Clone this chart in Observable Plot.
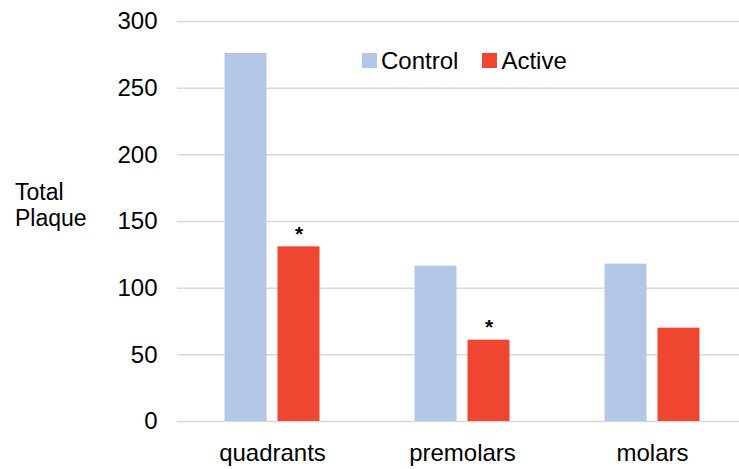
<!DOCTYPE html>
<html>
<head>
<meta charset="utf-8">
<script src="https://cdn.jsdelivr.net/npm/d3@7"></script>
<script src="https://cdn.jsdelivr.net/npm/@observablehq/plot@0.6"></script>
<style>
  html, body { margin: 0; padding: 0; background: #fff; overflow: hidden; }
  #wrap { position: relative; width: 739px; height: 469px; font-family: "Liberation Sans", Arial, sans-serif; }
  #ylabel { position: absolute; left: 15px; top: 179px; font-size: 23px; line-height: 26px; color: #000; }
  #legend { position: absolute; left: 362px; top: 48px; display: flex; align-items: center; font-size: 24px; line-height: 25px; color: #000; }
  .item { display: flex; align-items: center; margin-right: 24px; }
  .sw { width: 15px; height: 15px; margin-right: 4px; }
</style>
</head>
<body>
<div id="wrap">
  <div id="chart"></div>
  <div id="ylabel"></div>
  <div id="legend"></div>
</div>
<script>
const categories = ["quadrants", "premolars", "molars"];
const series = ["Control", "Active"];
const controlValues = [276, 116.5, 118];
const activeValues = [131, 61, 70];
const significant = [true, true, false];
const yTicks = [0, 50, 100, 150, 200, 250, 300];
const colors = ["#B4C7E7", "#EE4631"];
const yLabelLines = ["Total", "Plaque"];

const data = categories.flatMap((c, i) => [
  {category: c, series: series[0], value: controlValues[i]},
  {category: c, series: series[1], value: activeValues[i]}
]);
const stars = categories
  .map((c, i) => ({category: c, series: series[1], value: activeValues[i], sig: significant[i]}))
  .filter(d => d.sig);

const chart = Plot.plot({
  width: 739,
  height: 469,
  marginTop: 21,
  marginBottom: 48,
  marginLeft: 176.5,
  marginRight: 0,
  style: {fontFamily: "'Liberation Sans', Arial, sans-serif", fontSize: "24px", color: "#000", background: "#fff"},
  fx: {domain: categories, range: [176.5, 746.5], padding: 0, label: null},
  x: {domain: series, paddingInner: 0.2, paddingOuter: 0.86, axis: null},
  y: {domain: [0, 300], label: null},
  color: {domain: series, range: colors},
  marks: [
    Plot.ruleY(yTicks, {stroke: "#D9D9D9", strokeWidth: 1.5}),
    Plot.barY(data, {fx: "category", x: "series", y: "value", fill: "series"}),
    Plot.text(stars, {fx: "category", x: "series", y: "value", text: () => "*", dy: -13, fontSize: 21, fontWeight: "bold", fill: "#000"}),
    Plot.axisY({ticks: yTicks, tickSize: 0, tickPadding: 20, fontSize: 24, label: null}),
    Plot.axisFx({anchor: "bottom", tickSize: 0, tickPadding: 22, fontSize: 24, label: null})
  ]
});
document.getElementById("chart").appendChild(chart);

document.getElementById("ylabel").innerHTML = yLabelLines.join("<br>");

const legend = document.getElementById("legend");
series.forEach((s, i) => {
  const item = document.createElement("div");
  item.className = "item";
  const sw = document.createElement("div");
  sw.className = "sw";
  sw.style.background = colors[i];
  const t = document.createElement("span");
  t.textContent = s;
  item.appendChild(sw);
  item.appendChild(t);
  legend.appendChild(item);
});
</script>
</body>
</html>
